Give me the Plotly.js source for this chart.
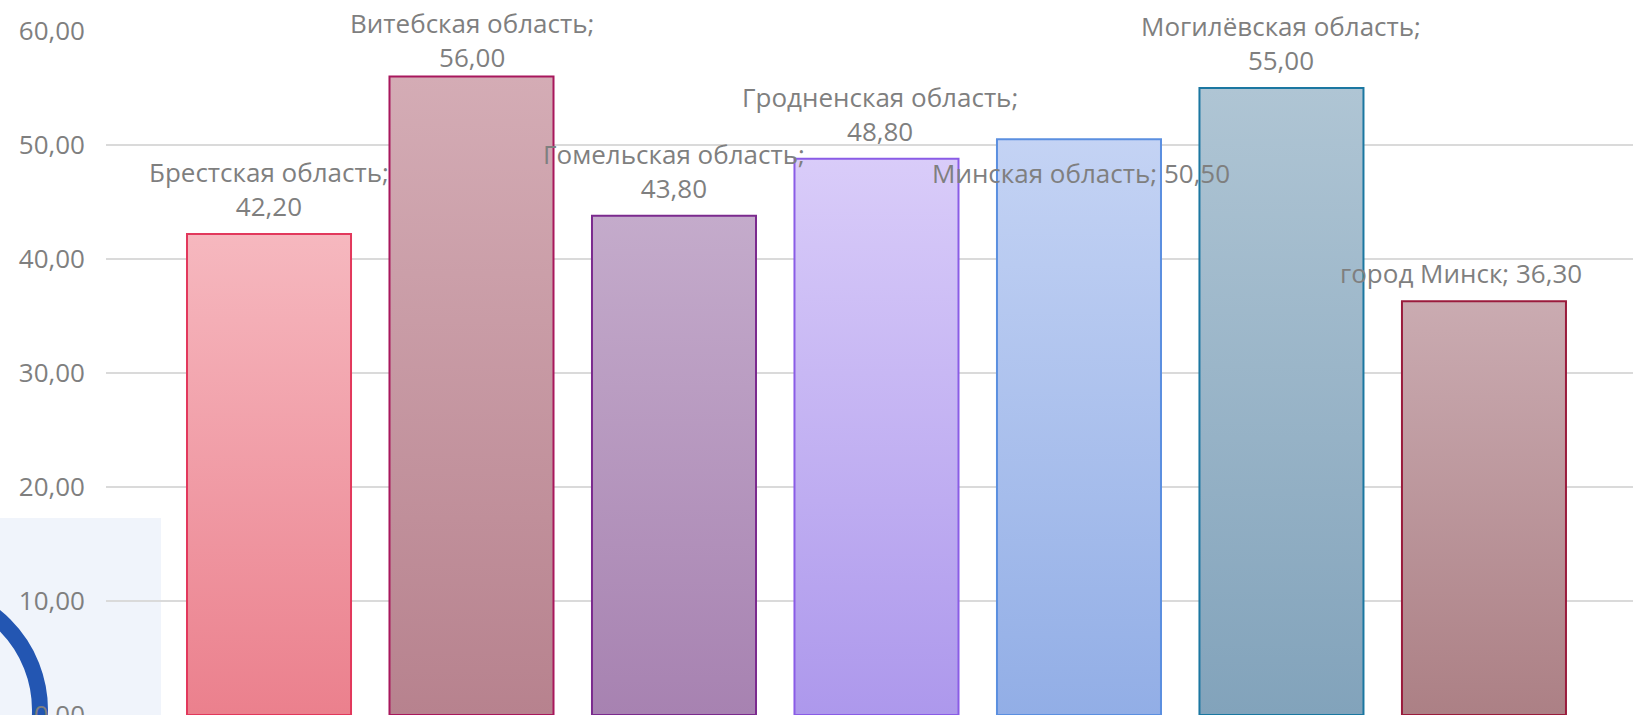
<!DOCTYPE html>
<html>
<head>
<meta charset="utf-8">
<script src="https://cdn.plot.ly/plotly-3.0.1.min.js"></script>
<style>
  html, body { margin: 0; padding: 0; background: #ffffff; }
  #chart { width: 1633px; height: 715px; }
</style>
</head>
<body>
<div id="chart"></div>
<script>
// ---- data ----
const categories = [
  "Брестская область",
  "Витебская область",
  "Гомельская область",
  "Гродненская область",
  "Минская область",
  "Могилёвская область",
  "город Минск"
];
const values = [42.2, 56.0, 43.8, 48.8, 50.5, 55.0, 36.3];
const yTickValues = [0, 10, 20, 30, 40, 50, 60];

// ---- styles ----
const topColors    = ["#f6b8bf", "#d4acb5", "#c4abcb", "#d9ccf9", "#c4d3f4", "#afc5d4", "#caabb1"];
const bottomColors = ["#eb808d", "#b7828e", "#a782b1", "#ad98ec", "#92aee6", "#82a3bb", "#ac8085"];
const lineColors   = ["#e2385c", "#a8175c", "#7b2a8e", "#8a5ce6", "#5b8fe0", "#1b77a1", "#9a1b3c"];
const labelWrap    = [true, true, true, true, false, true, false];
const labelYShift  = [8, 0, 8, 8, -14, 8, 8];
const labelXShift  = [0, 0, 0, 4, 2, 0, -23];

const fmt = v => v.toFixed(2).replace('.', ',');
const textColor = "#7f7f7f";
const fontFamily = "'Open Sans', 'DejaVu Sans', sans-serif";

const trace = {
  type: "bar",
  x: categories,
  y: values,
  marker: {
    color: bottomColors,
    line: { color: lineColors, width: 2 }
  },
  hoverinfo: "none"
};

const annotations = categories.map((c, i) => ({
  x: c,
  y: values[i],
  xref: "x",
  yref: "y",
  text: c + ";" + (labelWrap[i] ? "<br>" : " ") + fmt(values[i]),
  showarrow: false,
  xanchor: "center",
  yanchor: labelYShift[i] < 0 ? "top" : "bottom",
  yshift: labelYShift[i],
  xshift: labelXShift[i],
  align: "center",
  font: { family: fontFamily, size: 26, color: textColor }
}));

// decoration (logo fragment at bottom-left), in pixel terms converted to paper
const L = 106, W = 1633 - 106, T = 31, H = 715 - 31;
const px = x => (x - L) / W;
const py = y => (715 - y) / H;

const layout = {
  width: 1633,
  height: 715,
  margin: { l: L, r: 0, t: T, b: 0, pad: 0 },
  paper_bgcolor: "#ffffff",
  plot_bgcolor: "rgba(0,0,0,0)",
  separators: ", ",
  showlegend: false,
  bargap: 0.19,
  xaxis: {
    type: "category",
    range: [-0.805, 6.736],
    showticklabels: false,
    showgrid: false,
    zeroline: false,
    showline: false,
    ticks: ""
  },
  yaxis: {
    range: [0, 60],
    tickvals: yTickValues,
    tickformat: ".2f",
    showgrid: true,
    gridcolor: "#dadada",
    gridwidth: 2,
    zeroline: false,
    showline: false,
    ticks: "",
    ticklabelstandoff: 20,
    ticklabeloverflow: "allow",
    tickfont: { family: fontFamily, size: 26, color: textColor }
  },
  annotations: annotations,
  shapes: [
    {
      type: "rect", xref: "paper", yref: "paper", layer: "below",
      x0: px(0), x1: px(161), y0: py(716), y1: py(518),
      fillcolor: "#f0f4fb", line: { width: 0 }
    },
    {
      type: "circle", xref: "paper", yref: "paper", layer: "below",
      x0: px(-200), x1: px(40), y0: py(830), y1: py(590),
      fillcolor: "rgba(0,0,0,0)", line: { color: "#2356b2", width: 16 }
    }
  ]
};

const gd = document.getElementById("chart");
Plotly.newPlot(gd, [trace], layout, { staticPlot: true, displayModeBar: false }).then(() => {
  const ns = "http://www.w3.org/2000/svg";
  const svg = gd.querySelector("svg.main-svg");
  let defs = svg.querySelector("defs");
  if (!defs) { defs = document.createElementNS(ns, "defs"); svg.insertBefore(defs, svg.firstChild); }
  const paths = gd.querySelectorAll(".barlayer .point path");
  paths.forEach((p, i) => {
    const id = "barGrad" + i;
    const lg = document.createElementNS(ns, "linearGradient");
    lg.setAttribute("id", id);
    lg.setAttribute("x1", "0"); lg.setAttribute("y1", "0");
    lg.setAttribute("x2", "0"); lg.setAttribute("y2", "1");
    [[0, topColors[i]], [1, bottomColors[i]]].forEach(([o, c]) => {
      const s = document.createElementNS(ns, "stop");
      s.setAttribute("offset", o);
      s.setAttribute("stop-color", c);
      lg.appendChild(s);
    });
    defs.appendChild(lg);
    p.style.setProperty("fill", "url(#" + id + ")");
    p.style.setProperty("fill-opacity", "1");
  });
});
</script>
</body>
</html>
